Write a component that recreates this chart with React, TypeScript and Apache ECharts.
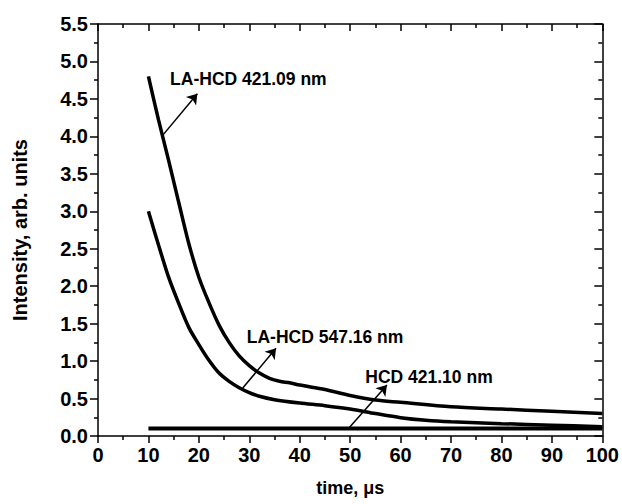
import React, { useEffect, useRef } from "react";
import * as echarts from "echarts";

const xMin = 0;
const xMax = 100;
const xStep = 10;
const yMin = 0;
const yMax = 5.5;
const yStep = 0.5;

// LA-HCD 421.09 nm
const la421X = [10, 12, 14, 16, 18, 20, 22, 24, 26, 28, 30, 32, 34, 36, 38, 40, 45, 50, 55, 60, 70, 80, 90, 100];
const la421Y = [4.8, 4.22, 3.68, 3.12, 2.57, 2.12, 1.78, 1.48, 1.25, 1.07, 0.94, 0.84, 0.77, 0.73, 0.71, 0.68, 0.62, 0.54, 0.48, 0.45, 0.39, 0.36, 0.33, 0.3];

// LA-HCD 547.16 nm
const la547X = [10, 12, 14, 16, 18, 20, 22, 24, 26, 28, 30, 32, 35, 40, 45, 50, 55, 60, 65, 70, 80, 90, 100];
const la547Y = [3.0, 2.55, 2.12, 1.77, 1.45, 1.22, 1.01, 0.84, 0.73, 0.645, 0.58, 0.53, 0.485, 0.44, 0.405, 0.36, 0.3, 0.245, 0.21, 0.19, 0.165, 0.145, 0.125];

// HCD 421.10 nm
const hcdX = [10, 100];
const hcdY = [0.1, 0.1];

const labelTexts = ["LA-HCD 421.09 nm", "LA-HCD 547.16 nm", "HCD 421.10 nm"];
const labelAnchors = [[14.2, 4.77], [29.4, 1.32], [52.9, 0.79]];
const arrowStarts = [[12.9, 4.02], [28.7, 0.64], [49.8, 0.11]];
const arrowEnds = [[19.7, 4.57], [35.3, 1.17], [57.3, 0.68]];

const FONT = "Liberation Sans, Arial, sans-serif";

function zip(xs: number[], ys: number[]) {
  return xs.map((x, i) => [x, ys[i]]);
}

export default function App() {
  const ref = useRef<HTMLDivElement>(null);
  useEffect(() => {
    if (!ref.current) return;
    const chart = echarts.init(ref.current, null, { renderer: "svg" });
    const axisLine = { show: true, onZero: false, lineStyle: { color: "#000", width: 1.5 } };
    const tickStyle = { color: "#000", width: 1.5 };
    const curve = (name: string, data: number[][], w: number) => ({
      name,
      type: "line",
      data,
      showSymbol: false,
      symbol: "none",
      smooth: 0.3,
      lineStyle: { color: "#000", width: w },
      xAxisIndex: 0,
      yAxisIndex: 0,
      z: 3,
    });
    chart.setOption({
      animation: false,
      backgroundColor: "#fff",
      grid: { left: 98, right: 18, top: 24, bottom: 68, containLabel: false },
      xAxis: [
        {
          type: "value",
          min: xMin,
          max: xMax,
          interval: xStep,
          position: "bottom",
          axisLine,
          axisTick: { show: true, inside: false, length: 7, lineStyle: tickStyle },
          minorTick: { show: true, splitNumber: 2, length: 4, lineStyle: tickStyle },
          axisLabel: { color: "#000", fontFamily: FONT, fontWeight: "bold", fontSize: 20, margin: 9, formatter: (v: number) => String(v) },
          splitLine: { show: false },
          minorSplitLine: { show: false },
          name: "time, μs",
          nameLocation: "middle",
          nameGap: 43,
          nameTextStyle: { color: "#000", fontFamily: FONT, fontWeight: "bold", fontSize: 18 },
        },
        {
          type: "value",
          min: xMin,
          max: xMax,
          interval: xStep,
          position: "top",
          axisLine,
          axisTick: { show: true, inside: true, length: 7, lineStyle: tickStyle },
          minorTick: { show: true, splitNumber: 2, length: 4, lineStyle: tickStyle },
          axisLabel: { show: false },
          splitLine: { show: false },
        },
      ],
      yAxis: [
        {
          type: "value",
          min: yMin,
          max: yMax,
          interval: yStep,
          position: "left",
          axisLine,
          axisTick: { show: true, inside: false, length: 8, lineStyle: tickStyle },
          minorTick: { show: true, splitNumber: 2, length: 4, lineStyle: tickStyle },
          axisLabel: { color: "#000", fontFamily: FONT, fontWeight: "bold", fontSize: 20, margin: 10, formatter: (v: number) => v.toFixed(1) },
          splitLine: { show: false },
          minorSplitLine: { show: false },
          name: "Intensity, arb. units",
          nameLocation: "middle",
          nameGap: 68,
          nameRotate: 90,
          nameTextStyle: { color: "#000", fontFamily: FONT, fontWeight: "bold", fontSize: 20 },
        },
        {
          type: "value",
          min: yMin,
          max: yMax,
          interval: yStep,
          position: "right",
          axisLine,
          axisTick: { show: true, inside: true, length: 8, lineStyle: tickStyle },
          minorTick: { show: true, splitNumber: 2, length: 4, lineStyle: tickStyle },
          axisLabel: { show: false },
          splitLine: { show: false },
        },
      ],
      series: [
        curve("LA-HCD 421.09 nm", zip(la421X, la421Y), 3.5),
        curve("LA-HCD 547.16 nm", zip(la547X, la547Y), 3.5),
        curve("HCD 421.10 nm", zip(hcdX, hcdY), 4),
        {
          type: "lines",
          coordinateSystem: "cartesian2d",
          xAxisIndex: 0,
          yAxisIndex: 0,
          symbol: ["none", "arrow"],
          symbolSize: 10,
          lineStyle: { color: "#000", width: 1.5, opacity: 1, curveness: 0 },
          data: arrowStarts.map((s, i) => ({ coords: [s, arrowEnds[i]] })),
          z: 4,
        },
        {
          type: "scatter",
          xAxisIndex: 0,
          yAxisIndex: 0,
          symbol: "circle",
          symbolSize: 1,
          itemStyle: { color: "rgba(0,0,0,0)" },
          label: {
            show: true,
            position: "right",
            distance: 0,
            color: "#000",
            opacity: 1,
            textBorderWidth: 0,
            fontFamily: FONT,
            fontWeight: "bold",
            fontSize: 17.5,
            formatter: (p: any) => p.name,
          },
          data: labelAnchors.map((a, i) => ({ name: labelTexts[i], value: a })),
          z: 5,
        },
      ],
    });
    return () => chart.dispose();
  }, []);
  return <div ref={ref} style={{ position: "fixed", left: 0, top: 0, width: 622, height: 504 }} />;
}
